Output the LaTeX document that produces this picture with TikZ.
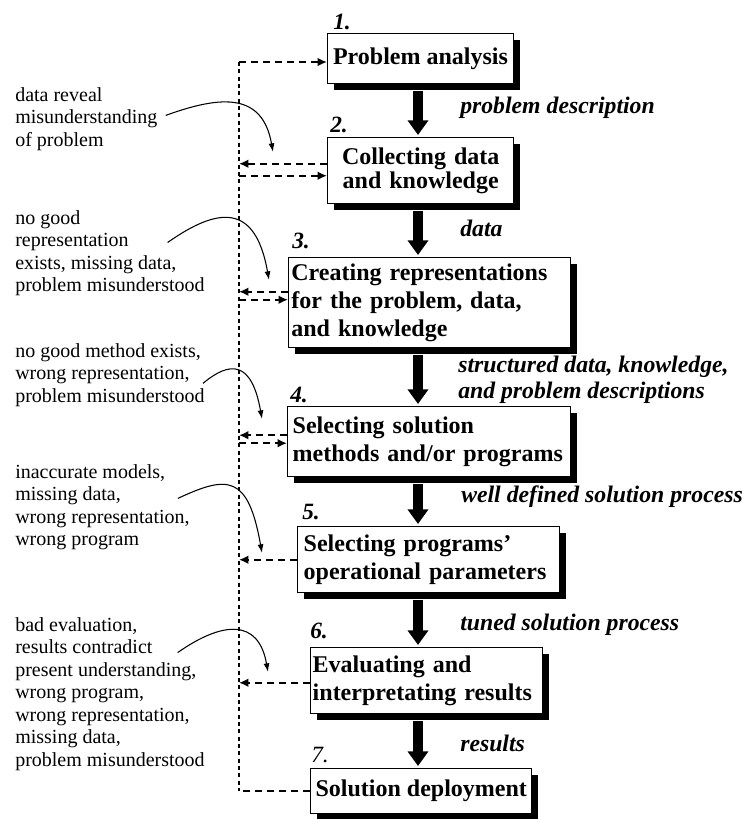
\documentclass[tikz,border=0pt]{standalone}
\usepackage{fontspec}
\setmainfont{Liberation Serif}
\usetikzlibrary{arrows.meta,shadows}
\tikzset{
	box/.style={draw, line width=1.1pt, fill=white, anchor=north west, inner ysep=0pt,
		font=\bfseries\fontsize{18}{21}\selectfont,
		drop shadow={shadow xshift=4.8pt, shadow yshift=-4.8pt, fill=black, opacity=1}},
	num/.style={anchor=base west, inner sep=0pt, font=\bfseries\itshape\fontsize{17.5}{20}\selectfont},
	desc/.style={anchor=west, inner sep=0pt, align=left, font=\bfseries\itshape\fontsize{17.8}{19.5}\selectfont},
	note/.style={anchor=north west, inner sep=0pt, align=left, font=\fontsize{15}{16.9}\selectfont},
	flow/.style={line width=8pt, -{Triangle[width=15pt,length=11pt]}, shorten <=5pt, shorten >=1.5pt},
	spine/.style={line width=1.7pt, dash pattern=on 3pt off 2.5pt},
	fbline/.style={line width=1.8pt, dash pattern=on 5.5pt off 3.5pt},
	fb/.style={fbline, -{Latex[length=7pt,width=6.5pt]}},
	cause/.style={line width=0.8pt, -{Latex[length=6.5pt,width=4.5pt]}}
}
\begin{document}
\begin{tikzpicture}[x=0.75pt,y=-0.75pt]
		\useasboundingbox (0,0) rectangle (743,819);
		
		%%%% steps
		\node[box, minimum width=138.75pt, inner xsep=4pt, minimum height=37.5pt, align=center,
			label={[num,xshift=4.5pt,yshift=3pt]north west:1.}] (b1) at (327,33) {Problem analysis};
		\node[box, text width=131.5pt, inner xsep=4pt, minimum height=49.5pt, align=center,
			font=\bfseries\fontsize{18}{17.5}\selectfont,
			label={[num,xshift=2.25pt,yshift=3.75pt]north west:2.}] (b2) at (327,137) {Collecting data\\and knowledge};
		\node[box, text width=207.5pt, inner xsep=2pt, minimum height=67.5pt, align=left,
			label={[num,xshift=3pt,yshift=6.75pt]north west:3.}] (b3) at (288,257) {Creating representations\\for the problem, data,\\and knowledge};
		\node[box, text width=204.75pt, inner xsep=3.75pt, minimum height=52.5pt, align=left,
			label={[num,xshift=2.25pt,yshift=3pt]north west:4.}] (b4) at (287,406) {Selecting solution\\methods and/or programs};
		\node[box, text width=187.5pt, inner xsep=4.5pt, minimum height=49.5pt, align=left,
			label={[num,xshift=3.75pt,yshift=5.25pt]north west:5.}] (b5) at (297,526) {Selecting programs'\\operational parameters};
		\node[box, text width=171pt, inner xsep=1.5pt, minimum height=49.5pt, align=left,
			label={[num,yshift=6.75pt]north west:6.}] (b6) at (310,647) {Evaluating and\\interpretating results};
		\node[box, minimum width=165.75pt, inner xsep=3pt, minimum height=33.75pt, align=center,
			label={[num,font=\itshape\fontsize{17.5}{20}\selectfont,xshift=0.75pt,yshift=4.5pt]north west:7.}] (b7) at (310,768) {Solution deployment};
		
		%%%% flow between steps
		\coordinate (mid) at (418,0);
		\draw[flow] (b1.south -| mid) -- (b2.north -| mid);
		\draw[flow] (b2.south -| mid) -- (b3.north -| mid);
		\draw[flow] (b3.south -| mid) -- (b4.north -| mid);
		\draw[flow] (b4.south -| mid) -- (b5.north -| mid);
		\draw[flow] (b5.south -| mid) -- (b6.north -| mid);
		\draw[flow] (b6.south -| mid) -- (b7.north -| mid);
		
		%%%% what flows
		\node[desc] (d1) at (460,108) {problem description};
		\node[desc] (d2) at (460,228) {data};
		\node[desc] (d3) at (458,380) {structured data, knowledge,\\and problem descriptions};
		\node[desc] (d4) at (461,497) {well defined solution process};
		\node[desc] (d5) at (460,625) {tuned solution process};
		\node[desc] (d6) at (460,743) {results};
		
		%%%% feedback line
		\coordinate (top) at (239,62);
		\draw[spine] (top) -- (top |- b7.west);
		\draw[fbline] (b7.west) -- (top |- b7.west);
		\draw[fb] (top) -- (top -| b1.west);
		\draw[fb] ([yshift=5.25pt]b2.west) -- ([yshift=5.25pt]b2.west -| top);
		\draw[fb] ([yshift=-3.75pt]b2.west -| top) -- ([yshift=-3.75pt]b2.west);
		\draw[fb] ([yshift=8.25pt]b3.west) -- ([yshift=8.25pt]b3.west -| top);
		\draw[fb] ([yshift=2.25pt]b3.west -| top) -- ([yshift=2.25pt]b3.west);
		\draw[fb] ([yshift=4.9pt]b4.west) -- ([yshift=4.9pt]b4.west -| top);
		\draw[fb] ([yshift=-1.1pt]b4.west -| top) -- ([yshift=-1.1pt]b4.west);
		\draw[fb] (b5.west) -- (b5.west -| top);
		\draw[fb] ([yshift=-1.5pt]b6.west) -- ([yshift=-1.5pt]b6.west -| top);
		
		%%%% reasons
		\node[note] (t1) at (15,87) {data reveal\\misunderstanding\\of problem};
		\node[note] (t2) at (15,210) {no good\\representation\\exists, missing data,\\problem misunderstood};
		\node[note] (t3) at (15,343) {no good method exists,\\wrong representation,\\problem misunderstood};
		\node[note] (t4) at (15,464) {inaccurate models,\\missing data,\\wrong representation,\\wrong program};
		\node[note] (t5) at (15,617) {bad evaluation,\\results contradict\\present understanding,\\wrong program,\\wrong representation,\\missing data,\\problem misunderstood};
		
		\coordinate (c2) at (273,152);
		\coordinate (c3) at (269,280);
		\coordinate (c4) at (262,419);
		\coordinate (c5) at (262,553);
		\coordinate (c6) at (268,672);
		\draw[cause] ([xshift=6pt,yshift=2.6pt]t1.east) to[out=20,in=100,out distance=45pt,in distance=45pt] (c2);
		\draw[cause] ([xshift=-28pt,yshift=8pt]t2.east) to[out=35,in=100,out distance=45pt,in distance=60pt] (c3);
		\draw[cause] ([xshift=-1.5pt,yshift=-6.4pt]t3.east) to[out=40,in=100,out distance=26pt,in distance=45pt] (c4);
		\draw[cause] ([xshift=-9pt,yshift=6.6pt]t4.east) to[out=25,in=100,out distance=41pt,in distance=60pt] (c5);
		\draw[cause] ([xshift=-20.5pt,yshift=31pt]t5.east) to[out=35,in=100,out distance=41pt,in distance=41pt] (c6);
	\end{tikzpicture}
\end{document}
